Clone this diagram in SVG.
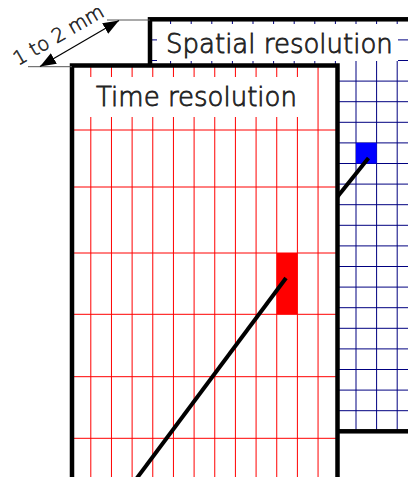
<svg xmlns="http://www.w3.org/2000/svg" width="408" height="477" viewBox="0 0 408 477">
  <defs>
    <style>
      .border { fill: none; stroke: #000; stroke-width: 4.5; }
      .bg { fill: #fff; }
      .bgrid { fill: none; stroke: #000080; stroke-width: 1; }
      .rgrid { fill: none; stroke: #ff0000; stroke-width: 1; }
      .track { fill: none; stroke: #000; stroke-width: 4; }
      .label { font-family: "DejaVu Sans", "Liberation Sans", sans-serif; font-weight: 200; font-size: 26px; fill: #222; stroke: #222; stroke-width: 0.8; }
      .dim { fill: none; stroke: #555; stroke-width: 1; }
      .dimtext { font-family: "DejaVu Sans", "Liberation Sans", sans-serif; font-weight: 200; font-size: 19.5px; fill: #222; stroke: #222; stroke-width: 0.6; }
    </style>
    <marker id="ah" viewBox="0 0 16 12" refX="16" refY="6" markerWidth="16" markerHeight="12" markerUnits="userSpaceOnUse" orient="auto-start-reverse">
      <path d="M0,0 L16,6 L0,12 Z" fill="#000"/>
    </marker>
    <clipPath id="bclip"><rect x="150" y="19.3" width="270" height="412"/></clipPath>
    <clipPath id="rclip"><rect x="72" y="65.5" width="265.5" height="430"/></clipPath>
  </defs>

  <g id="spatial-panel">
    <rect class="bg" x="150" y="19.3" width="270" height="412"/>
    <g clip-path="url(#bclip)">
      <path class="bgrid" d="M170.6,19.3V431.3M191.2,19.3V431.3M211.8,19.3V431.3M232.4,19.3V431.3M253,19.3V431.3M273.6,19.3V431.3M294.2,19.3V431.3M314.8,19.3V431.3M335.4,19.3V431.3M356,19.3V431.3M376.6,19.3V431.3M397.2,19.3V431.3
        M150,39.9H420M150,60.5H420M150,81.1H420M150,101.7H420M150,122.3H420M150,142.9H420M150,163.5H420M150,184.1H420M150,204.7H420M150,225.3H420M150,245.9H420M150,266.5H420M150,287.1H420M150,307.7H420M150,328.3H420M150,348.9H420M150,369.5H420M150,390.1H420M150,410.7H420"/>
      <rect x="356" y="142.9" width="20.6" height="20.6" fill="#0000ff"/>
      <line class="track" x1="368.5" y1="158" x2="320" y2="218.6"/>
      <rect class="bg" x="157" y="24" width="241" height="37"/>
      <text class="label" x="166" y="52.5">Spatial resolution</text>
    </g>
    <rect class="border" x="150" y="19.3" width="270" height="412"/>
  </g>

  <g id="time-panel">
    <rect class="bg" x="72" y="65.5" width="265.5" height="430"/>
    <g clip-path="url(#rclip)">
      <path class="rgrid" d="M90.8,65.5V495M111.46,65.5V495M132.12,65.5V495M152.78,65.5V495M173.44,65.5V495M194.1,65.5V495M214.76,65.5V495M235.42,65.5V495M256.08,65.5V495M276.74,65.5V495M297.4,65.5V495M318.06,65.5V495
        M72,130H337.5M72,187H337.5M72,253H337.5M72,314.3H337.5M72,376.7H337.5M72,438.3H337.5"/>
      <rect x="276.74" y="253" width="20.66" height="61.3" fill="#ff0000"/>
      <line class="track" x1="286" y1="278" x2="134" y2="482"/>
      <rect class="bg" x="74" y="77" width="236" height="40"/>
      <text class="label" x="96" y="106">Time resolution</text>
    </g>
    <rect class="border" x="72" y="65.5" width="265.5" height="430"/>
  </g>

  <g id="dimension">
    <line class="dim" x1="28" y1="66.7" x2="72" y2="66.7"/>
    <line class="dim" x1="107" y1="20" x2="150" y2="20"/>
    <line x1="40" y1="66.5" x2="119" y2="20.5" stroke="#000" stroke-width="1.2" marker-start="url(#ah)" marker-end="url(#ah)"/>
    <text class="dimtext" transform="translate(18,66) rotate(-30)">1 to 2 mm</text>
  </g>
</svg>
